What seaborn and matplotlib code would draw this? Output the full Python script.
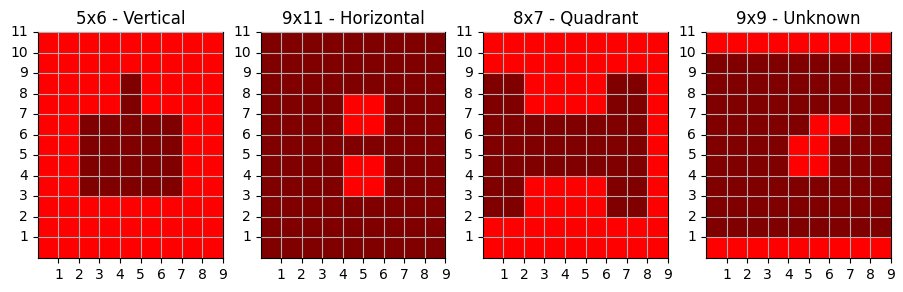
import numpy as np
import matplotlib
matplotlib.use('Agg')
import matplotlib.pyplot as plt
from matplotlib.colors import ListedColormap
import seaborn as sns

# grids, written top row first (y=10..11) down to bottom row (y=0..1); 1 = red, 0 = dark red
titles = ['5x6 - Vertical', '9x11 - Horizontal', '8x7 - Quadrant', '9x9 - Unknown']

grid_vertical = [
    [1, 1, 1, 1, 1, 1, 1, 1, 1],
    [1, 1, 1, 1, 1, 1, 1, 1, 1],
    [1, 1, 1, 1, 0, 1, 1, 1, 1],
    [1, 1, 1, 1, 0, 1, 1, 1, 1],
    [1, 1, 0, 0, 0, 0, 0, 1, 1],
    [1, 1, 0, 0, 0, 0, 0, 1, 1],
    [1, 1, 0, 0, 0, 0, 0, 1, 1],
    [1, 1, 0, 0, 0, 0, 0, 1, 1],
    [1, 1, 1, 1, 1, 1, 1, 1, 1],
    [1, 1, 1, 1, 1, 1, 1, 1, 1],
    [1, 1, 1, 1, 1, 1, 1, 1, 1],
]

grid_horizontal = [
    [0, 0, 0, 0, 0, 0, 0, 0, 0],
    [0, 0, 0, 0, 0, 0, 0, 0, 0],
    [0, 0, 0, 0, 0, 0, 0, 0, 0],
    [0, 0, 0, 0, 1, 1, 0, 0, 0],
    [0, 0, 0, 0, 1, 1, 0, 0, 0],
    [0, 0, 0, 0, 0, 0, 0, 0, 0],
    [0, 0, 0, 0, 1, 1, 0, 0, 0],
    [0, 0, 0, 0, 1, 1, 0, 0, 0],
    [0, 0, 0, 0, 0, 0, 0, 0, 0],
    [0, 0, 0, 0, 0, 0, 0, 0, 0],
    [0, 0, 0, 0, 0, 0, 0, 0, 0],
]

grid_quadrant = [
    [1, 1, 1, 1, 1, 1, 1, 1, 1],
    [1, 1, 1, 1, 1, 1, 1, 1, 1],
    [0, 0, 1, 1, 1, 1, 0, 0, 1],
    [0, 0, 1, 1, 1, 1, 0, 0, 1],
    [0, 0, 0, 0, 0, 0, 0, 0, 1],
    [0, 0, 0, 0, 0, 0, 0, 0, 1],
    [0, 0, 0, 0, 0, 0, 0, 0, 1],
    [0, 0, 1, 1, 1, 1, 0, 0, 1],
    [0, 0, 1, 1, 1, 1, 0, 0, 1],
    [1, 1, 1, 1, 1, 1, 1, 1, 1],
    [1, 1, 1, 1, 1, 1, 1, 1, 1],
]

grid_unknown = [
    [1, 1, 1, 1, 1, 1, 1, 1, 1],
    [0, 0, 0, 0, 0, 0, 0, 0, 0],
    [0, 0, 0, 0, 0, 0, 0, 0, 0],
    [0, 0, 0, 0, 0, 0, 0, 0, 0],
    [0, 0, 0, 0, 0, 1, 1, 0, 0],
    [0, 0, 0, 0, 1, 1, 0, 0, 0],
    [0, 0, 0, 0, 1, 1, 0, 0, 0],
    [0, 0, 0, 0, 0, 0, 0, 0, 0],
    [0, 0, 0, 0, 0, 0, 0, 0, 0],
    [0, 0, 0, 0, 0, 0, 0, 0, 0],
    [1, 1, 1, 1, 1, 1, 1, 1, 1],
]

grids = [grid_vertical, grid_horizontal, grid_quadrant, grid_unknown]
x_ticks = list(range(1, 10))
y_ticks = list(range(1, 12))

cmap = ListedColormap(['#800000', '#ff0000'])

fig = plt.figure(figsize=(9.04, 2.92), dpi=100)
lefts = [37.3, 260.0, 482.3, 705.5]
for left, grid, title in zip(lefts, grids, titles):
    ax = fig.add_axes([left / 904, 34 / 292, 186 / 904, 226 / 292])
    data = np.array(grid)[::-1]   # bottom row first
    sns.heatmap(data, ax=ax, cmap=cmap, vmin=0, vmax=1, cbar=False, square=True)
    ax.invert_yaxis()
    for s in ax.spines.values():
        s.set_visible(True)
        s.set_color('black')
        s.set_linewidth(0.8)
    ax.set_xticks(x_ticks)
    ax.set_xticklabels([str(t) for t in x_ticks], rotation=0)
    ax.set_yticks(y_ticks)
    ax.set_yticklabels([str(t) for t in y_ticks], rotation=0, va='center')
    ax.tick_params(length=3.5, width=0.8, labelsize=10)
    ax.grid(True, color='#b0b0b0', linewidth=0.8)
    ax.set_axisbelow(False)
    ax.set_title(title, fontsize=12)

fig.savefig('out.png', dpi=100)
